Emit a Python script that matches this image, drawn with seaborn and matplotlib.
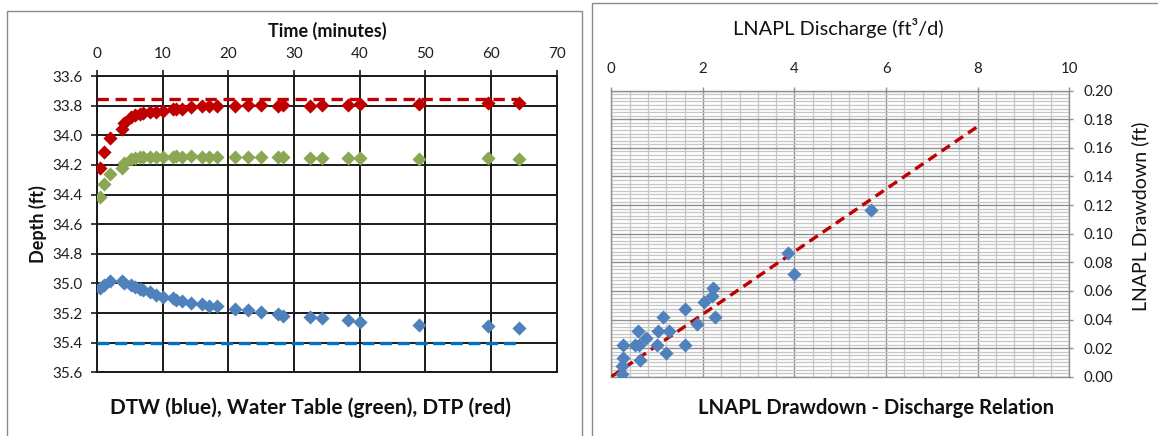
import matplotlib
matplotlib.use("Agg")
import matplotlib.pyplot as plt
from matplotlib.patches import Rectangle
from matplotlib.ticker import MultipleLocator, FormatStrFormatter
import seaborn as sns
import pandas as pd

# ---- Baildown test: depth readings vs. time ----
time_min = [0.5, 1.0, 2.0, 3.75, 4.1, 5.2, 5.8, 6.5, 7.0, 8.0, 9.0, 10.0, 11.5, 12.0,
            13.0, 14.25, 16.0, 17.0, 18.25, 21.0, 23.0, 25.0, 27.5, 28.25, 32.5, 34.25,
            38.25, 40.0, 49.0, 59.5, 64.25]
dtp_ft = [34.22, 34.11, 34.02, 33.955, 33.92, 33.875, 33.865, 33.855, 33.85, 33.845,
          33.84, 33.835, 33.825, 33.82, 33.82, 33.81, 33.805, 33.805, 33.80, 33.80,
          33.795, 33.795, 33.80, 33.795, 33.80, 33.795, 33.795, 33.79, 33.79, 33.78, 33.78]
water_table_ft = [34.42, 34.33, 34.26, 34.22, 34.19, 34.16, 34.155, 34.15, 34.145, 34.145,
                  34.145, 34.145, 34.145, 34.14, 34.145, 34.14, 34.145, 34.145, 34.145,
                  34.145, 34.145, 34.15, 34.15, 34.15, 34.155, 34.155, 34.155, 34.155,
                  34.16, 34.155, 34.16]
dtw_ft = [35.03, 35.01, 34.985, 34.985, 35.0, 35.01, 35.025, 35.035, 35.045, 35.06,
          35.075, 35.09, 35.10, 35.11, 35.12, 35.13, 35.14, 35.15, 35.155, 35.17,
          35.18, 35.19, 35.205, 35.22, 35.23, 35.235, 35.245, 35.26, 35.28, 35.29, 35.30]

# static reference levels (pre-test)
ref_time = [0, 64]
static_dtp = [33.757, 33.757]
static_dtw = [35.40, 35.40]

# ---- Drawdown vs. discharge ----
discharge = [5.67, 3.85, 4.0, 2.23, 2.19, 2.02, 2.27, 1.62, 1.88, 1.62, 1.12, 1.03, 1.26,
             0.59, 0.75, 0.99, 1.19, 0.26, 0.52, 0.60, 0.63, 0.26, 0.23, 0.23]
drawdown = [0.1165, 0.0867, 0.0718, 0.0622, 0.0566, 0.052, 0.042, 0.047, 0.0368, 0.022,
            0.042, 0.0322, 0.0322, 0.0322, 0.0273, 0.022, 0.0168, 0.022, 0.022, 0.0225,
            0.0117, 0.0129, 0.0075, 0.0019]
trend_q = [0, 8]
trend_s = [0, 0.175]

RED = "#C00000"
GREEN = "#8BA753"
BLUE = "#4F81BD"
BLUE_LINE = "#0070C0"

sns.set_theme(style="white")
plt.rcParams["font.family"] = ["Lato", "DejaVu Sans"]
plt.rcParams["axes.unicode_minus"] = False

W, H = 1158, 436
fig = plt.figure(figsize=(W / 100, H / 100), dpi=100)

# chart frames
fig.patches.append(Rectangle((7 / W, -0.02), (582 - 7) / W, 1.02 - 11 / H,
                             transform=fig.transFigure, fill=False,
                             edgecolor="#8a8a8a", lw=1.0))
fig.patches.append(Rectangle((592 / W, -0.02), (1170 - 592) / W, 1.02 - 3 / H,
                             transform=fig.transFigure, fill=False,
                             edgecolor="#8a8a8a", lw=1.0))

# ---------------- left chart ----------------
ax1 = fig.add_axes([97 / W, 1 - 372.3 / H, 459.7 / W, 296.3 / H])
depth = pd.DataFrame({"t": time_min, "dtp": dtp_ft, "wt": water_table_ft, "dtw": dtw_ft})
ref = pd.DataFrame({"t": ref_time, "dtp": static_dtp, "dtw": static_dtw})

sns.lineplot(data=ref, x="t", y="dtp", ax=ax1, color=RED, lw=2.4,
             zorder=3).lines[-1].set_dashes([3.4, 2.0])
sns.lineplot(data=ref, x="t", y="dtw", ax=ax1, color=BLUE_LINE, lw=2.4,
             zorder=3).lines[-1].set_dashes([3.6, 1.7])
for col, c in (("dtp", RED), ("wt", GREEN), ("dtw", BLUE)):
    sns.scatterplot(data=depth, x="t", y=col, ax=ax1, marker="D", s=52,
                    color=c, linewidth=0, zorder=4)

ax1.set_xlim(0, 70)
ax1.set_ylim(35.6, 33.6)
ax1.xaxis.set_major_locator(MultipleLocator(10))
ax1.yaxis.set_major_locator(MultipleLocator(0.2))
ax1.yaxis.set_major_formatter(FormatStrFormatter("%.1f"))
ax1.xaxis.tick_top()
ax1.grid(True, color="#1a1a1a", lw=1.4)
ax1.set_axisbelow(True)
for sp in ax1.spines.values():
    sp.set_color("#1a1a1a")
    sp.set_linewidth(1.4)
ax1.tick_params(axis="both", which="major", direction="out", length=4, width=1.2,
                color="#1a1a1a", labelsize=11, pad=6.5, labelcolor="#1e1e1e")
ax1.tick_params(axis="x", top=True, bottom=False)
ax1.tick_params(axis="y", left=True)
ax1.set_xlabel("")
ax1.set_ylabel("")

fig.text(327 / W, 1 - 31 / H, "Time (minutes)", ha="center", va="center",
         fontsize=13, fontweight="bold", color="#111111")
fig.text(38 / W, 1 - 224 / H, "Depth (ft)", ha="center", va="center", rotation=90,
         fontsize=13, fontweight="bold", color="#111111")
fig.text(310 / W, 1 - 408 / H, "DTW (blue), Water Table (green), DTP (red)",
         ha="center", va="center", fontsize=15, fontweight="bold", color="#111111")

# ---------------- right chart ----------------
ax2 = fig.add_axes([611.3 / W, 1 - 376.7 / H, 458 / W, 286 / H])
rel = pd.DataFrame({"q": discharge, "s": drawdown})
trend = pd.DataFrame({"q": trend_q, "s": trend_s})

sns.lineplot(data=trend, x="q", y="s", ax=ax2, color=RED, lw=2.4,
             zorder=3).lines[-1].set_dashes([3.0, 1.8])
sns.scatterplot(data=rel, x="q", y="s", ax=ax2, marker="D", s=52, color=BLUE,
                linewidth=0, zorder=4)

ax2.set_xlim(0, 10)
ax2.set_ylim(0, 0.20)
ax2.xaxis.set_major_locator(MultipleLocator(2))
ax2.xaxis.set_minor_locator(MultipleLocator(0.4))
ax2.yaxis.set_major_locator(MultipleLocator(0.02))
ax2.yaxis.set_minor_locator(MultipleLocator(0.0025))
ax2.yaxis.set_major_formatter(FormatStrFormatter("%.2f"))
ax2.xaxis.tick_top()
ax2.yaxis.tick_right()
ax2.grid(True, which="major", color="#8f8f8f", lw=1.0)
ax2.grid(True, which="minor", color="#c6c6c6", lw=0.9)
ax2.set_axisbelow(True)
for sp in ax2.spines.values():
    sp.set_color("#8f8f8f")
    sp.set_linewidth(1.0)
ax2.tick_params(axis="both", which="major", direction="out", length=3, width=1.0,
                color="#8f8f8f", labelsize=10.8, pad=7.5, labelcolor="#1e1e1e")
ax2.tick_params(axis="both", which="minor", length=0)
ax2.tick_params(axis="x", top=True, bottom=False)
ax2.tick_params(axis="y", right=True, left=False)
ax2.set_xlabel("")
ax2.set_ylabel("")

fig.text(838 / W, 1 - 28 / H, "LNAPL Discharge (ft³/d)", ha="center", va="center",
         fontsize=14.4, color="#111111")
fig.text(1140 / W, 1 - 216 / H, "LNAPL Drawdown (ft)", ha="center", va="center",
         rotation=90, fontsize=14, color="#111111")
fig.text(876 / W, 1 - 408 / H, "LNAPL Drawdown - Discharge Relation", ha="center",
         va="center", fontsize=14.6, fontweight="bold", color="#111111")

fig.savefig("out.png", dpi=100, facecolor="white")
